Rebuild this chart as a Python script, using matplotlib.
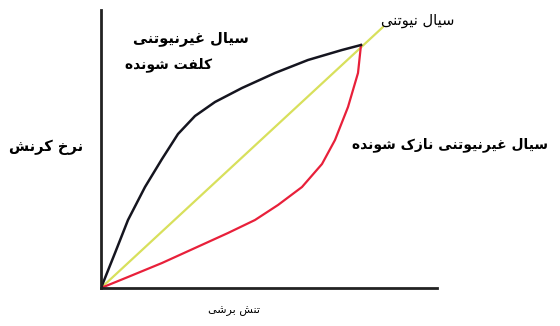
import matplotlib.pyplot as plt

# shear stress (x) vs strain rate (y), in pixel-like units from the origin
newton_x = [0, 282]
newton_y = [0, 261]

thick_x = [0, 14, 27, 44, 61, 77, 94, 114, 141, 174, 207, 241, 260]
thick_y = [0, 35, 68, 101, 129, 154, 172, 186, 200, 215, 228, 238, 243]

thin_x = [0, 27, 61, 94, 127, 154, 177, 201, 221, 234, 247, 257, 260]
thin_y = [0, 11, 25, 40, 55, 68, 83, 101, 124, 148, 181, 215, 243]

lbl_thick = ["سیال غیرنیوتنی", "کلفت شونده"]
lbl_newton = "سیال نیوتنی"
lbl_thin = "سیال غیرنیوتنی نازک شونده"
lbl_x = "تنش برشی"
lbl_y = "نرخ کرنش"

# contextual forms: isolated, final, initial, medial
FORMS = {
    "ا": "\uFE8D\uFE8E", "د": "\uFEA9\uFEAA", "ر": "\uFEAD\uFEAE",
    "ز": "\uFEAF\uFEB0", "و": "\uFEED\uFEEE",
    "ب": "\uFE8F\uFE90\uFE91\uFE92", "ت": "\uFE95\uFE96\uFE97\uFE98",
    "ج": "\uFE9D\uFE9E\uFE9F\uFEA0", "خ": "\uFEA5\uFEA6\uFEA7\uFEA8",
    "س": "\uFEB1\uFEB2\uFEB3\uFEB4", "ش": "\uFEB5\uFEB6\uFEB7\uFEB8",
    "غ": "\uFECD\uFECE\uFECF\uFED0", "ف": "\uFED1\uFED2\uFED3\uFED4",
    "ل": "\uFEDD\uFEDE\uFEDF\uFEE0", "ن": "\uFEE5\uFEE6\uFEE7\uFEE8",
    "ه": "\uFEE9\uFEEA\uFEEB\uFEEC", "ی": "\uFBFC\uFBFD\uFBFE\uFBFF",
    "ک": "\uFB8E\uFB8F\uFB90\uFB91",
}


def shape(s):
    out = []
    for i, c in enumerate(s):
        f = FORMS.get(c)
        if f is None:
            out.append(c)
            continue
        prev = s[i - 1] if i > 0 else ""
        nxt = s[i + 1] if i + 1 < len(s) else ""
        jp = prev in FORMS and len(FORMS[prev]) == 4
        jn = len(f) == 4 and nxt in FORMS
        if jp and jn:
            out.append(f[3])
        elif jp:
            out.append(f[1])
        elif jn:
            out.append(f[2])
        else:
            out.append(f[0])
    return "".join(out)[::-1]


plt.rcParams["font.family"] = ["DejaVu Sans"]

fig = plt.figure(figsize=(5.6, 3.26), dpi=100)
ax = fig.add_axes([101 / 560, 38 / 326, 336 / 560, 278 / 326])
ax.set_xlim(0, 336)
ax.set_ylim(0, 278)

ax.plot(newton_x, newton_y, color="#d8e05c", lw=1.6, solid_capstyle="round")
ax.plot(thin_x, thin_y, color="#e8203a", lw=1.6, solid_joinstyle="round")
ax.plot(thick_x, thick_y, color="#15151f", lw=1.8, solid_joinstyle="round")

for side in ["top", "right"]:
    ax.spines[side].set_visible(False)
for side in ["left", "bottom"]:
    ax.spines[side].set_linewidth(2)
    ax.spines[side].set_color("#222222")
ax.set_xticks([])
ax.set_yticks([])

ax.text(90, 250, shape(lbl_thick[0]), ha="center", va="center", fontsize=10.5, fontweight="bold")
ax.text(68, 223, shape(lbl_thick[1]), ha="center", va="center", fontsize=10, fontweight="bold")
ax.text(317, 268, shape(lbl_newton), ha="center", va="center", fontsize=10.5, clip_on=False)
ax.text(349, 143, shape(lbl_thin), ha="center", va="center", fontsize=10, fontweight="bold", clip_on=False)
ax.text(133, -23, shape(lbl_x), ha="center", va="center", fontsize=8, clip_on=False)
ax.text(-55, 141, shape(lbl_y), ha="center", va="center", fontsize=10.5, fontweight="bold", clip_on=False)

fig.savefig("out.png", dpi=100)
